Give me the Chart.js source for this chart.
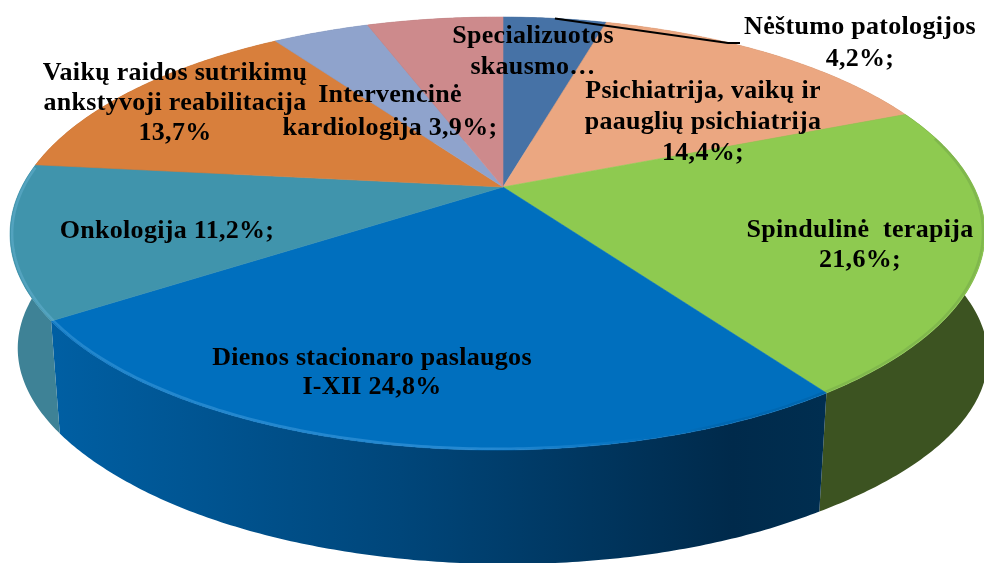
<!DOCTYPE html>
<html lang="lt">
<head>
<meta charset="utf-8">
<title>Paslaugų struktūra</title>
<script src="https://cdn.jsdelivr.net/npm/chart.js@4/dist/chart.umd.min.js"></script>
<style>
    html, body { margin: 0; padding: 0; background: #fff; overflow: hidden; }
    #pieChart { display: block; }
</style>
</head>
<body>
<canvas id="pieChart" width="984" height="563"></canvas>
<script>
// Slices clockwise from twelve o'clock
const categories = [
    'Nėštumo patologijos',
    'Psichiatrija, vaikų ir paauglių psichiatrija',
    'Spindulinė terapija',
    'Dienos stacionaro paslaugos I-XII',
    'Onkologija',
    'Vaikų raidos sutrikimų ankstyvoji reabilitacija',
    'Intervencinė kardiologija',
    'Specializuotos skausmo…'
];
// the last one has no printed number
const shares = [4.2, 14.4, 21.6, 24.8, 11.2, 13.7, 3.9, 5.5];

const faceColors = ['#4672a6', '#eba781', '#8eca50', '#006fbe', '#4094ac', '#d87f3c', '#8fa3cc', '#cd8a8c'];
const sideColors = ['#2e4c70', '#9c6f55', '#3c5321', '#00467a', '#3e8296', '#8f5427', '#5f6d88', '#885c5d'];

// Text blocks as they sit on the picture: centre x, first baseline
const labelBlocks = [
    { x: 860, y: 34, lines: ['Nėštumo patologijos', '4,2%;'], gap: 32 },
    { x: 703, y: 98, lines: ['Psichiatrija, vaikų ir', 'paauglių psichiatrija', '14,4%;'], gap: 31 },
    { x: 860, y: 237, lines: ['Spindulinė  terapija', '21,6%;'], gap: 30 },
    { x: 372, y: 365, lines: ['Dienos stacionaro paslaugos', 'I-XII 24,8%'], gap: 29 },
    { x: 167, y: 238, lines: ['Onkologija 11,2%;'], gap: 30 },
    { x: 175, y: 80, lines: ['Vaikų raidos sutrikimų', 'ankstyvoji reabilitacija', '13,7%'], gap: 30 },
    { x: 390, y: 102, lines: ['Intervencinė', 'kardiologija 3,9%;'], gap: 33 },
    { x: 533, y: 43, lines: ['Specializuotos', 'skausmo…'], gap: 31 }
];

// Perspective of the disc: centre point, half axes, tilt
const disc = { cx: 503, cy: 187, a: 476, b: 206.5, k: 0.215, m: 0.011 };
// The lower rim is the upper one pulled toward a far vanishing point
const drop = { x: 497, y: 5113, s: 0.976, lift: 2, slope: 0.01, bulgeRight: 14, bulgeLeft: 4 };

function project(theta, r) {
    const u = r * Math.sin(theta);
    const v = r * Math.cos(theta);
    const w = 1 + disc.k * v + disc.m * u;
    return { x: disc.cx + disc.a * u / w, y: disc.cy - disc.b * v / w };
}

function lower(p) {
    // both ends of the wall swell out a little on the picture
    const right = Math.max(0, (p.x - 800) / 180);
    const left = Math.max(0, (120 - p.x) / 110);
    return {
        x: drop.x + drop.s * (p.x - drop.x) + drop.bulgeRight * Math.pow(right, 1.5) - drop.bulgeLeft * Math.pow(left, 1.5),
        y: drop.y + drop.s * (p.y - drop.y) + drop.lift + (p.x - drop.x) * drop.slope
    };
}

function rimPoints(from, to, r) {
    const steps = Math.max(2, Math.ceil((to - from) / 0.01));
    const points = [];
    for (let i = 0; i <= steps; i++) {
        points.push(project(from + (to - from) * i / steps, r));
    }
    return points;
}

function tracePoints(ctx, points) {
    points.forEach(p => ctx.lineTo(p.x, p.y));
}

function drawWall(ctx, from, to, index) {
    const top = rimPoints(from, to, 1);
    const bottom = top.map(lower).reverse();
    ctx.beginPath();
    tracePoints(ctx, top.concat(bottom));
    ctx.closePath();
    if (index === 3) {
        // the big front slice goes darker to the right
        const grad = ctx.createLinearGradient(53, 0, 825, 0);
        grad.addColorStop(0, '#005fa3');
        grad.addColorStop(0.45, '#00467a');
        grad.addColorStop(0.88, '#002a4b');
        grad.addColorStop(1, '#002e50');
        ctx.fillStyle = grad;
    } else {
        ctx.fillStyle = sideColors[index];
    }
    ctx.fill();
}

function drawFace(ctx, from, to, index) {
    const centre = project(0, 0);
    ctx.beginPath();
    ctx.moveTo(centre.x, centre.y);
    tracePoints(ctx, rimPoints(from, to, 1));
    ctx.closePath();
    ctx.fillStyle = faceColors[index];
    ctx.strokeStyle = faceColors[index];
    ctx.lineWidth = 0.6;
    ctx.fill();
    ctx.stroke();
}

// Light bevel on the front rim, turning to a soft shadow on the right
function drawBevel(ctx) {
    const grad = ctx.createLinearGradient(0, 0, 984, 0);
    grad.addColorStop(0, 'rgba(150,215,255,0.22)');
    grad.addColorStop(0.5, 'rgba(120,195,255,0.30)');
    grad.addColorStop(0.66, 'rgba(120,195,255,0)');
    grad.addColorStop(0.72, 'rgba(0,20,40,0.08)');
    grad.addColorStop(1, 'rgba(0,20,40,0.10)');
    ctx.beginPath();
    rimPoints(Math.PI * 0.42, Math.PI * 1.53, 0.996).forEach(p => ctx.lineTo(p.x, p.y));
    ctx.strokeStyle = grad;
    ctx.lineWidth = 2.5;
    ctx.stroke();
}

const tiltedPie = {
    id: 'tiltedPie',
    beforeDatasetsDraw(chart) {
        const ctx = chart.ctx;
        const arcs = chart.getDatasetMeta(0).data;
        // chart.js counts from three o'clock, the disc from twelve
        const spans = arcs.map(arc => ({
            from: arc.startAngle + Math.PI / 2,
            to: arc.endAngle + Math.PI / 2
        }));
        ctx.save();
        spans.forEach((s, i) => drawWall(ctx, s.from, s.to, i));
        spans.forEach((s, i) => drawFace(ctx, s.from, s.to, i));
        drawBevel(ctx);
        ctx.restore();
        return false;
    },
    afterDraw(chart) {
        const ctx = chart.ctx;
        const first = chart.getDatasetMeta(0).data[0];
        const mid = (first.startAngle + first.endAngle) / 2 + Math.PI / 2;
        const anchor = project(mid, 1);

        ctx.save();
        ctx.strokeStyle = '#000';
        ctx.lineWidth = 2;
        ctx.beginPath();
        ctx.moveTo(anchor.x, anchor.y);
        ctx.lineTo(728, 43);
        ctx.lineTo(740, 43);
        ctx.stroke();

        ctx.fillStyle = '#000';
        ctx.font = 'bold 26px "Liberation Serif"';
        ctx.letterSpacing = '0.3px';
        ctx.textAlign = 'center';
        ctx.textBaseline = 'alphabetic';
        labelBlocks.forEach(block => {
            block.lines.forEach((line, i) => {
                ctx.fillText(line, block.x, block.y + i * block.gap);
            });
        });
        ctx.restore();
    }
};

new Chart(document.getElementById('pieChart'), {
    type: 'pie',
    data: {
        labels: categories,
        datasets: [{
            data: shares,
            backgroundColor: faceColors,
            borderWidth: 0
        }]
    },
    options: {
        responsive: false,
        animation: false,
        plugins: {
            legend: { display: false },
            tooltip: { enabled: false }
        }
    },
    plugins: [tiltedPie]
});
</script>
</body>
</html>
